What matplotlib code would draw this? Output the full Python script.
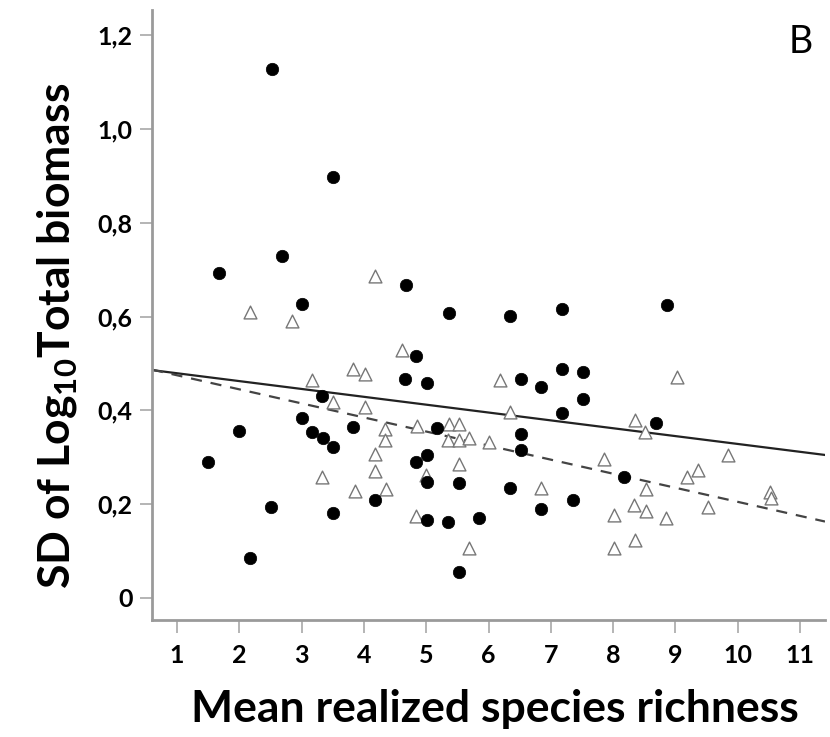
import matplotlib
matplotlib.use("Agg")
import matplotlib.pyplot as plt
import numpy as np

# ---- data ----
circles_x = [2.52, 3.50, 2.68, 1.67, 4.67, 3.01, 5.36, 4.84, 4.66, 5.01, 3.33, 3.00, 2.00,
             3.17, 3.34, 3.51, 3.83, 5.18, 1.50, 4.84, 5.01, 5.01, 5.52, 4.18, 2.51, 3.51,
             5.01, 5.35, 5.85, 2.17, 5.52, 6.35, 7.18, 8.86, 6.52, 6.84, 7.18, 7.52, 7.52,
             7.18, 8.69, 6.52, 6.52, 8.18, 6.35, 7.35, 6.84]
circles_y = [1.129, 0.897, 0.730, 0.694, 0.667, 0.628, 0.607, 0.515, 0.466, 0.458, 0.431, 0.383, 0.357,
             0.355, 0.341, 0.323, 0.365, 0.362, 0.291, 0.289, 0.304, 0.248, 0.246, 0.210, 0.195, 0.181,
             0.166, 0.163, 0.170, 0.086, 0.055, 0.601, 0.616, 0.625, 0.468, 0.451, 0.488, 0.481, 0.424,
             0.394, 0.374, 0.349, 0.316, 0.257, 0.235, 0.210, 0.189]

triangles_x = [4.18, 2.17, 2.84, 4.61, 3.83, 4.02, 3.17, 3.50, 4.02, 4.34, 4.34, 4.85, 5.36, 5.53,
               5.35, 5.52, 5.69, 6.00, 4.18, 4.18, 3.33, 5.00, 5.52, 3.85, 4.35, 4.84, 5.69, 6.18,
               9.02, 6.35, 8.35, 8.51, 7.85, 9.85, 9.18, 9.36, 8.52, 10.52, 10.53, 6.85, 8.34, 8.52,
               8.02, 8.85, 9.52, 8.02, 8.35]
triangles_y = [0.687, 0.610, 0.590, 0.529, 0.488, 0.478, 0.465, 0.417, 0.407, 0.360, 0.337, 0.367, 0.372, 0.371,
               0.337, 0.337, 0.342, 0.333, 0.307, 0.270, 0.259, 0.262, 0.285, 0.228, 0.232, 0.175, 0.106, 0.465,
               0.472, 0.397, 0.380, 0.355, 0.296, 0.305, 0.259, 0.273, 0.232, 0.225, 0.213, 0.235, 0.198, 0.186,
               0.177, 0.170, 0.195, 0.106, 0.124]

fit_x = [0.6, 11.4]
solid_fit_y = [0.486, 0.305]
dashed_fit_y = [0.487, 0.163]

xticks = [1, 2, 3, 4, 5, 6, 7, 8, 9, 10, 11]
yticks = [0, 0.2, 0.4, 0.6, 0.8, 1.0, 1.2]
ytick_labels = ["0", "0,2", "0,4", "0,6", "0,8", "1,0", "1,2"]

# ---- plot ----
plt.rcParams['font.family'] = ['Lato', 'DejaVu Sans']
plt.rcParams['mathtext.fontset'] = 'custom'
plt.rcParams['mathtext.rm'] = 'Lato:bold'

fig = plt.figure(figsize=(8.3, 7.37), dpi=100)
ax = fig.add_axes([152/830, 1-620/737, (825-152)/830, (620-10)/737])

ax.plot(fit_x, solid_fit_y, color='#222222', lw=1.6, zorder=2)
ax.plot(fit_x, dashed_fit_y, color='#444444', lw=1.6, dashes=(5, 4), zorder=2)

ax.scatter(triangles_x, triangles_y, marker='^', s=85, facecolor='white',
           edgecolor='#777777', linewidths=1.0, zorder=3)
ax.scatter(circles_x, circles_y, marker='o', s=80, facecolor='black',
           edgecolor='black', linewidths=0.5, zorder=4)

ax.set_xlim(0.6, 11.4)
ax.set_ylim(-0.047, 1.254)

for s in ['top', 'right']:
    ax.spines[s].set_visible(False)
for s in ['left', 'bottom']:
    ax.spines[s].set_color('#9a9a9a')
    ax.spines[s].set_linewidth(2.0)

ax.set_xticks(xticks)
ax.set_xticklabels([str(v) for v in xticks])
ax.set_yticks(yticks)
ax.set_yticklabels(ytick_labels)
ax.tick_params(axis='both', direction='out', length=9, width=1.2, color='#a8a8a8',
               labelsize=18, pad=5)
ax.tick_params(axis='x', pad=8)
for lab in ax.get_xticklabels() + ax.get_yticklabels():
    lab.set_fontweight('bold')

ax.set_xlabel('Mean realized species richness', fontsize=32, fontweight='bold')
ax.xaxis.set_label_coords(0.510, -0.113)
ax.set_ylabel(r'SD of Log$_{\mathregular{10}}$Total biomass', fontsize=32, fontweight='bold')
ax.yaxis.set_label_coords(-0.108, 0.466)

ax.text(0.964, 0.947, 'B', transform=ax.transAxes, fontsize=27, ha='center', va='center')

fig.savefig('out.png', dpi=100)
